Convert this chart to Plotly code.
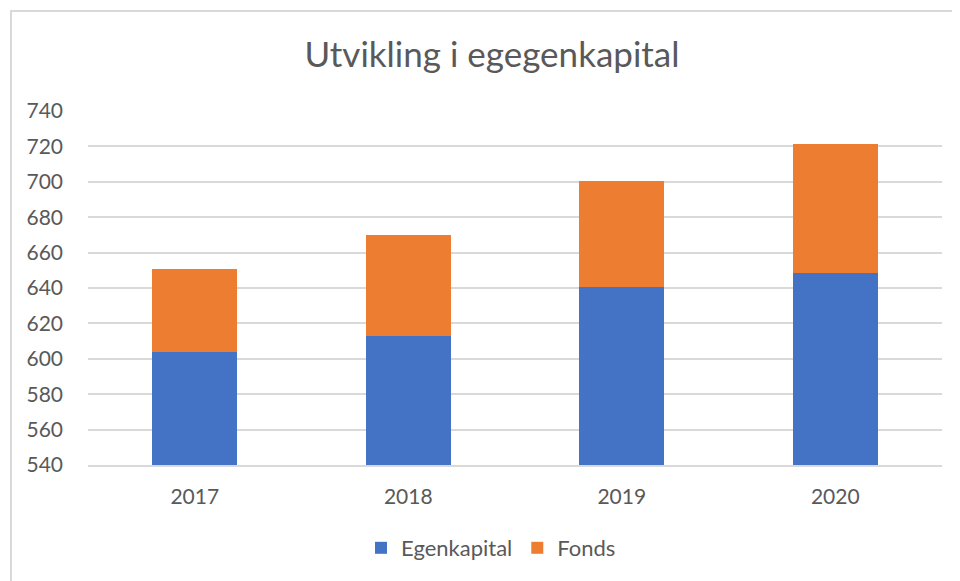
import plotly.graph_objects as go

years = ["2017", "2018", "2019", "2020"]
egenkapital = [603.8, 612.9, 640.6, 648.5]
fonds = [46.9, 57.0, 59.9, 72.9]
y_ticks = [540, 560, 580, 600, 620, 640, 660, 680, 700, 720, 740]

font_family = "Lato, 'Open Sans', sans-serif"
text_color = "#595959"
grid_color = "#d9d9d9"

L, R, T, B = 80, 26, 103, 124
PW, PH = 960 - L - R, 581 - T - B

fig = go.Figure()
fig.add_trace(go.Bar(x=years, y=egenkapital, name="Egenkapital", marker_color="#4472c4",
                     marker_line_width=0))
fig.add_trace(go.Bar(x=years, y=fonds, name="Fonds", marker_color="#ed7d31",
                     marker_line_width=0))

fig.update_layout(
    barmode="stack",
    bargap=0.6,
    width=960, height=581,
    margin=dict(l=L, r=R, t=T, b=B, autoexpand=False),
    paper_bgcolor="white",
    plot_bgcolor="white",
    font=dict(family=font_family, color=text_color, size=21),
    title=dict(text="Utvikling i egegenkapital", x=(492 - 8 - L) / PW, xanchor="center", xref="paper",
               y=1 - 47 / 581, yanchor="middle",
               font=dict(size=35, color=text_color, family=font_family)),
    legend=dict(orientation="h", x=(491 - 8 - L) / PW, xanchor="center",
                y=(T + PH - 540) / PH, yanchor="middle",
                font=dict(size=22, color=text_color), traceorder="normal",
                itemwidth=30),
    showlegend=True,
)
fig.update_yaxes(range=[540, 740], tickvals=y_ticks, showgrid=True, gridcolor=grid_color,
                 gridwidth=1.5, zeroline=False, showline=False, ticks="",
                 ticklabelstandoff=24, tickfont=dict(size=21, color=text_color))
fig.update_xaxes(showline=True, linecolor=grid_color, linewidth=1.5, ticks="",
                 ticklabelstandoff=12, tickfont=dict(size=21, color=text_color))

fig.add_shape(type="rect", xref="paper", yref="paper",
              x0=(3 - L) / PW, x1=1.2, y0=-0.6, y1=1 + (T - 3) / PH,
              line=dict(color=grid_color, width=2), fillcolor="rgba(0,0,0,0)", layer="below")

fig.write_html("out.html")
